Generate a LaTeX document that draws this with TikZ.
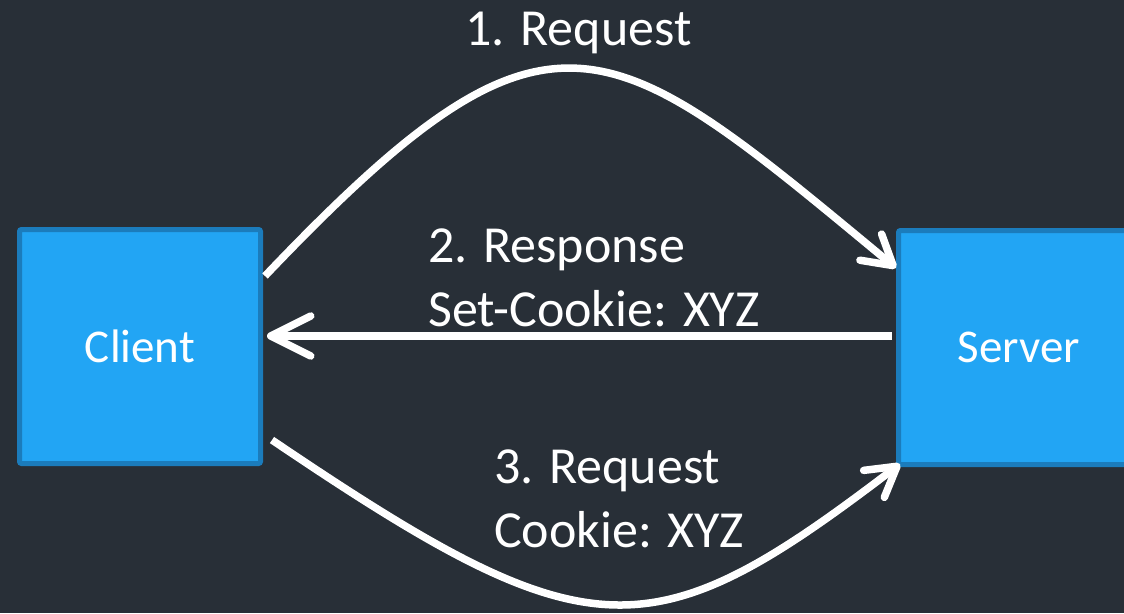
\documentclass[tikz,border=0pt]{standalone}
\usepackage{fontspec}
\setmainfont{Carlito}
\usetikzlibrary{arrows.meta,calc}
\definecolor{bg}{HTML}{282F37}
\definecolor{boxfill}{HTML}{22A5F4}
\definecolor{boxline}{HTML}{1B7CBC}
\begin{document}
\begin{tikzpicture}[x=1pt,y=-1pt,
  box/.style={draw=boxline, fill=boxfill, line width=5pt, rounded corners=2pt,
    minimum width=241pt, minimum height=234pt, inner sep=0pt, text=white,
    font=\fontsize{47}{56}\selectfont},
  lbl/.style={text=white, inner sep=0pt, font=\fontsize{52}{62}\selectfont},
  flow/.style={draw=white, line width=7.5pt},
  bendtip/.style={-{Straight Barb[length=29pt,width=34pt,round]}},
  flattip/.style={-{Straight Barb[length=40pt,width=40pt,round]}}]
\useasboundingbox (0,0) rectangle (1124,613);
\fill[bg] (0,0) rectangle (1124,613);

% the two parties
\node[box] (client) at (140,346.5) {Client};
\node[box] (server) at (1019,347.5) {Server};

% 1. first request, arching over the top
\draw[flow, bendtip] ($(client.north east)+(2,49)$)
  .. controls (552,-25.5) and (606,28) .. ($(server.north west)+(0,40)$);
% 2. response back to the client
\draw[flow, flattip] ($(server.west)+(-4,-11.5)$) -- ($(client.east)+(4,-10.5)$);
% 3. second request, dipping under
\draw[flow, bendtip] ($(client.south east)+(9,-26)$)
  .. controls (590,655) and (650,655) .. ($(server.south west)+(4,-3)$);

% labels
\node[lbl, anchor=base] (reqone) at (578.5,45) {1. Request};
\node[lbl, anchor=base west] (resp) at (428,262) {2. Response};
\node[lbl, anchor=base west] (setcookie) at (428,326) {Set-Cookie: XYZ};
\node[lbl, anchor=base west] (reqthree) at (494,483) {3. Request};
\node[lbl, anchor=base west] (cookie) at (494,547) {Cookie: XYZ};
\end{tikzpicture}
\end{document}
